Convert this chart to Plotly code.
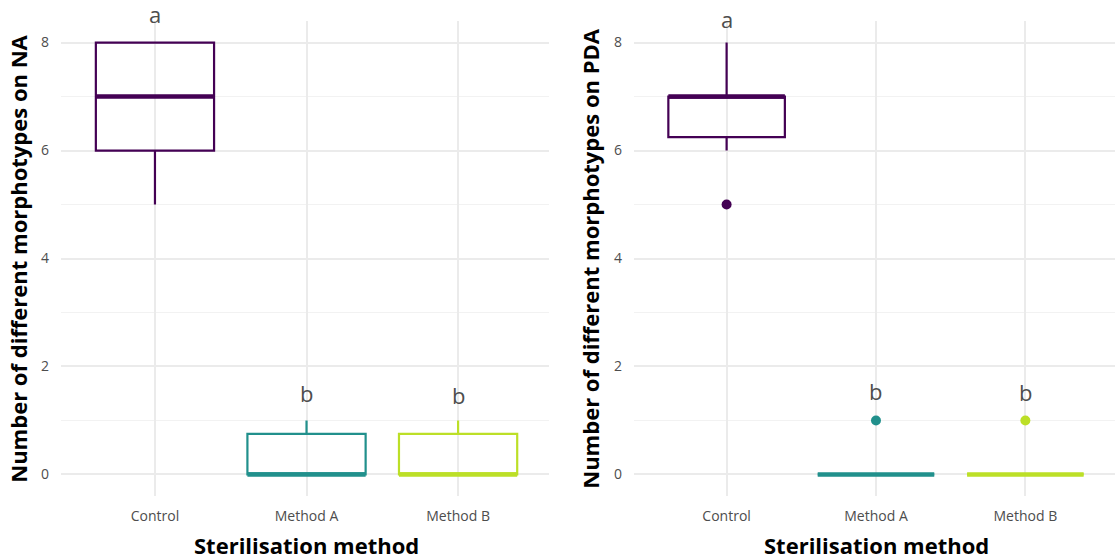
import plotly.graph_objects as go

categories = ["Control", "Method A", "Method B"]
colors = ["#440154", "#21908C", "#BCDF27"]

# NA panel (left) box statistics
na_q1 = [6, 0, 0]
na_median = [7, 0, 0]
na_q3 = [8, 0.75, 0.75]
na_lower = [5, 0, 0]
na_upper = [8, 1, 1]
na_outliers = [[], [], []]
na_letters = ["a", "b", "b"]
na_letter_y = [8, 1, 1]          # letters sit just above the top of each group

# PDA panel (right) box statistics
pda_q1 = [6.25, 0, 0]
pda_median = [7, 0, 0]
pda_q3 = [7, 0, 0]
pda_lower = [6, 0, 0]
pda_upper = [8, 0, 0]
pda_outliers = [[5], [1], [1]]
pda_letters = ["a", "b", "b"]
pda_letter_y = [8, 1, 1]

fig = go.Figure()
letter_annotations = []

def add_panel(xa, ya, q1, med, q3, lo, hi, outl, letters, ly, shifts):
    for i, cat in enumerate(categories):
        fig.add_trace(go.Box(
            x=[cat], q1=[q1[i]], median=[med[i]], q3=[q3[i]],
            lowerfence=[lo[i]], upperfence=[hi[i]],
            xaxis=xa, yaxis=ya, width=0.78, whiskerwidth=0,
            line=dict(color=colors[i], width=2.2), fillcolor="rgba(255,255,255,0)",
            boxpoints=False, showlegend=False, hoverinfo="skip"))
        # thicker median line
        fig.add_trace(go.Box(
            x=[cat], q1=[med[i]], median=[med[i]], q3=[med[i]],
            lowerfence=[med[i]], upperfence=[med[i]],
            xaxis=xa, yaxis=ya, width=0.78, whiskerwidth=0,
            line=dict(color=colors[i], width=4.5), fillcolor="rgba(255,255,255,0)",
            boxpoints=False, showlegend=False, hoverinfo="skip"))
        if outl[i]:
            fig.add_trace(go.Scatter(
                x=[cat] * len(outl[i]), y=outl[i], mode="markers",
                marker=dict(color=colors[i], size=10),
                xaxis=xa, yaxis=ya, showlegend=False, hoverinfo="skip"))
        letter_annotations.append(dict(
            text=letters[i], x=cat, y=ly[i], xref=xa, yref=ya, showarrow=False,
            xanchor="center", yanchor="middle", yshift=shifts[i],
            font=dict(size=22, color="#4D4D4D", family="Open Sans")))

add_panel("x", "y", na_q1, na_median, na_q3, na_lower, na_upper, na_outliers,
          na_letters, na_letter_y, [29, 27, 25])
add_panel("x2", "y2", pda_q1, pda_median, pda_q3, pda_lower, pda_upper, pda_outliers,
          pda_letters, pda_letter_y, [24, 29, 28])

grid = "#EBEBEB"
xcommon = dict(type="category", categoryorder="array", categoryarray=categories,
               range=[-0.62, 2.6], showgrid=True, gridcolor=grid, gridwidth=1.6,
               showline=False, zeroline=False, ticks="", ticklabelstandoff=10,
               automargin=False,
               tickfont=dict(family="Open Sans", size=14, color="#4D4D4D"))
ycommon = dict(range=[-0.4, 8.4], tickvals=[0, 2, 4, 6, 8], showgrid=True,
               gridcolor=grid, gridwidth=1.6, zeroline=False, showline=False, ticks="",
               ticklabelstandoff=11, automargin=False,
               minor=dict(tickvals=[1, 3, 5, 7], showgrid=True, gridcolor="#F2F2F2", gridwidth=1),
               tickfont=dict(family="Open Sans", size=14, color="#4D4D4D"))

title_font = dict(family="Open Sans", size=22, color="black")

fig.update_layout(
    width=1115, height=560,
    margin=dict(l=0, r=0, t=0, b=0, autoexpand=False),
    plot_bgcolor="white", paper_bgcolor="white",
    boxmode="overlay",
    xaxis=dict(domain=[0.0547, 0.4924], anchor="y", **xcommon),
    yaxis=dict(domain=[0.1143, 0.9625], anchor="x", **ycommon),
    xaxis2=dict(domain=[0.5686, 1.0], anchor="y2", **xcommon),
    yaxis2=dict(domain=[0.1143, 0.9625], anchor="x2", **ycommon),
    annotations=[
        dict(text="<b>Number of different morphotypes on NA</b>", x=18 / 1115, y=0.538,
             xref="paper", yref="paper", showarrow=False, textangle=-90,
             xanchor="center", yanchor="middle", font=title_font),
        dict(text="<b>Number of different morphotypes on PDA</b>", x=590 / 1115, y=0.538,
             xref="paper", yref="paper", showarrow=False, textangle=-90,
             xanchor="center", yanchor="middle", font=title_font),
        dict(text="<b>Sterilisation method</b>", x=306 / 1115, y=1 - 545 / 560,
             xref="paper", yref="paper", showarrow=False,
             xanchor="center", yanchor="middle", font=title_font),
        dict(text="<b>Sterilisation method</b>", x=876 / 1115, y=1 - 545 / 560,
             xref="paper", yref="paper", showarrow=False,
             xanchor="center", yanchor="middle", font=title_font),
    ] + letter_annotations,
)

fig.write_html("out.html", config={"displayModeBar": False},
               post_script="document.body.style.margin='0';document.body.style.overflow='hidden';")
